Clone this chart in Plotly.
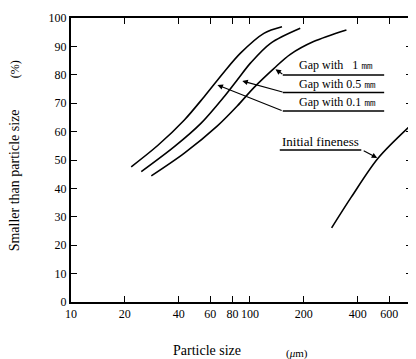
import plotly.graph_objects as go

# ---- data (particle size in um, cumulative % smaller than size) ----
gap01_size = [21.7, 30.5, 43.0, 55.5, 71.7, 88.8, 119.6, 151]
gap01_pct = [47.6, 55.1, 64.1, 72.3, 81.0, 87.7, 94.6, 96.9]

gap05_size = [24.7, 37.8, 53.2, 71.7, 84.9, 100.9, 130.3, 191]
gap05_pct = [45.9, 54.7, 62.9, 72.3, 78.2, 84.2, 91.1, 96.4]

gap1_size = [28.1, 43.0, 65.8, 84.9, 105.2, 135.9, 168.1, 226.8, 346]
gap1_pct = [44.4, 52.4, 62.0, 69.0, 75.5, 82.2, 87.2, 91.7, 95.8]

init_size = [286, 369, 521, 794]
init_pct = [26.1, 37.0, 50.7, 62.3]

x_tickvals = [10, 20, 40, 60, 80, 100, 200, 400, 600]
x_ticktext = ["10", "20", "40", "60", "80", "100", "200", "400", "600"]
y_tickvals = [0, 10, 20, 30, 40, 50, 60, 70, 80, 90, 100]

FONT = "Liberation Serif"
# page body has an 8px margin, so the figure is drawn 8px in from the top-left corner
OFF = 8
PIC_W, PIC_H = 416, 359
PL, PR, PT, PB = 71, 414, 18, 302   # plot-area edges in picture pixels
W, H = PIC_W - OFF, PIC_H - OFF
L, R, T, B = PL - OFF, W - (PR - OFF), PT - OFF, H - (PB - OFF)

fig = go.Figure()
for xs, ys in [(gap01_size, gap01_pct), (gap05_size, gap05_pct),
               (gap1_size, gap1_pct), (init_size, init_pct)]:
    fig.add_trace(go.Scatter(x=xs, y=ys, mode="lines",
                             line=dict(color="black", width=1.6, shape="spline", smoothing=0.9),
                             showlegend=False, hoverinfo="skip"))

def px(xp):  # picture pixel -> paper x
    return (xp - PL) / (PR - PL)

def py(yp):  # picture pixel -> paper y
    return (PB - yp) / (PB - PT)

ann = []
shapes = []

def arrow(head, tail):
    ann.append(dict(x=px(head[0]), y=py(head[1]), xref="paper", yref="paper",
                    ax=tail[0] - head[0], ay=tail[1] - head[1], axref="pixel", ayref="pixel",
                    showarrow=True, arrowhead=2, arrowsize=1, arrowwidth=1.1,
                    arrowcolor="black", text=""))

def hline(x0, x1, y):
    shapes.append(dict(type="line", xref="paper", yref="paper",
                       x0=px(x0), x1=px(x1), y0=py(y), y1=py(y),
                       line=dict(color="black", width=1.3)))

def label(text, x, y, size):
    ann.append(dict(x=px(x), y=py(y), xref="paper", yref="paper", text=text,
                    showarrow=False, xanchor="left", yanchor="middle",
                    font=dict(family=FONT, size=size, color="black")))

# Gap labels
label("Gap with &nbsp;&nbsp;1 ㎜", 298, 65, 12)
label("Gap with 0.5 ㎜", 298, 84, 12)
label("Gap with 0.1 ㎜", 298, 102, 12)
for uy in (75, 92.5, 111):
    hline(284, 386, uy)
arrow((276.7, 69.3), (285, 75))
arrow((243.3, 81), (285, 92.5))
arrow((218.3, 85), (284, 111))

# Initial fineness
label("Initial fineness", 281, 141, 13)
hline(281, 363, 150)
arrow((379, 158), (364, 150))

# axis titles
def title(text, x, y, size, angle=0):
    ann.append(dict(x=px(x), y=py(y), xref="paper", yref="paper", text=text,
                    showarrow=False, textangle=angle, xanchor="center", yanchor="middle",
                    font=dict(family=FONT, size=size, color="black")))

title("Particle size", 208, 351, 14)
title("(<i>μ</i>m)", 298, 353, 11)
title("Smaller than particle size", 14, 180, 14, -90)
title("(%)", 15, 69, 12, -90)

axis_common = dict(showgrid=False, zeroline=False, showline=True, linecolor="black",
                   linewidth=2, mirror="ticks", ticks="inside", ticklen=6, tickwidth=1.3,
                   tickcolor="black", tickangle=0,
                   tickfont=dict(family=FONT, size=12, color="black"))

fig.update_layout(
    width=W, height=H,
    margin=dict(l=L, r=R, t=T, b=B),
    paper_bgcolor="white", plot_bgcolor="white",
    xaxis=dict(type="log", range=[1, 1 + (PR - PL) / 180], tickvals=x_tickvals,
               ticktext=x_ticktext, ticklabelstandoff=0, **axis_common),
    yaxis=dict(range=[0, 100], tickvals=y_tickvals, ticklabelstandoff=0, **axis_common),
    annotations=ann, shapes=shapes,
)

fig.write_html("out.html")
